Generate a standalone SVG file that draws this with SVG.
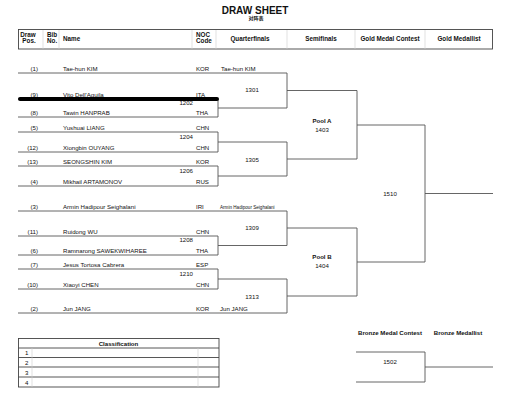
<svg xmlns="http://www.w3.org/2000/svg" width="511" height="400" viewBox="0 0 511 400">
<style>
text{font-family:"Liberation Sans",Arial,sans-serif;fill:#111}
.t{font-size:10px;font-weight:bold}
.st{font-size:5px;font-weight:bold;font-family:"Liberation Sans","Noto Sans CJK SC",sans-serif}
.h{font-size:6.3px;font-weight:bold}
.n{font-size:6.1px}
.s{font-size:4.6px}
.m{font-size:6.1px;text-anchor:middle}
.c{text-anchor:middle}
.e{text-anchor:end}
.b{font-weight:bold}
.ln{stroke:#555;stroke-width:0.9;fill:none}
.fr{stroke:#444;stroke-width:0.9;fill:none}
.fd{stroke:#ccc;stroke-width:0.6}
</style>
<rect width="511" height="400" fill="#fff"/>
<g id="title">
<text class="t c" x="255" y="14">DRAW SHEET</text>
<text class="st c" x="256" y="20">对阵表</text>
</g>
<g id="header">
<rect class="fr" x="18.5" y="29.5" width="474" height="19.5"/>
<line class="fd" x1="43" y1="30" x2="43" y2="49"/>
<line class="fd" x1="59" y1="30" x2="59" y2="49"/>
<line class="fd" x1="192" y1="30" x2="192" y2="49"/>
<line class="fd" x1="216" y1="30" x2="216" y2="49"/>
<line class="fd" x1="287" y1="30" x2="287" y2="49"/>
<line class="fd" x1="355" y1="30" x2="355" y2="49"/>
<line class="fd" x1="425" y1="30" x2="425" y2="49"/>
<text class="h c" x="28" y="37">Draw</text>
<text class="h c" x="29" y="43">Pos.</text>
<text class="h" x="47" y="37">Bib</text>
<text class="h" x="47" y="43">No.</text>
<text class="h" x="63" y="41">Name</text>
<text class="h" x="196" y="37">NOC</text>
<text class="h" x="196" y="43">Code</text>
<text class="h c" x="250" y="41">Quarterfinals</text>
<text class="h c" x="321" y="41">Semifinals</text>
<text class="h c" x="390" y="41">Gold Medal Contest</text>
<text class="h c" x="459" y="41">Gold Medallist</text>
</g>
<g id="connectors">
<!-- entry lines -->
<path class="ln" d="M18 73H287M18 99H218M18 117H218M18 132H218M18 152H218M18 166H218M18 186H218M18 211H287M18 236H218M18 255H218M18 269H218M18 289H218M18 313H287"/>
<!-- first round -->
<path class="ln" d="M218 99V117M218 108H287M218 132V152M218 142H287M218 166V186M218 176H287M218 236V255M218 245.5H287M218 269V289M218 279H287"/>
<!-- quarterfinals -->
<path class="ln" d="M287 73V108M287 90.5H357M287 142V176M287 159H357M287 211V245.5M287 228H357M287 279V313M287 296H357"/>
<!-- semifinals -->
<path class="ln" d="M357 90.5V159M357 125H425M357 228V296M357 262H425"/>
<!-- final -->
<path class="ln" d="M425 125V262M425 193.5H493"/>
<!-- bronze -->
<path class="ln" d="M356 352H425V382H356M425 367H493"/>
</g>
<g id="p1"><text class="n e" x="38" y="71">(1)</text><text class="n" x="63" y="71">Tae-hun KIM</text><text class="n" x="196" y="71">KOR</text><text class="n" x="221" y="71">Tae-hun KIM</text></g>
<g id="p9"><text class="n e" x="38" y="97">(9)</text><text class="n" x="63" y="97">Vito Dell'Aguila</text><text class="n" x="196" y="97">ITA</text></g>
<g id="m1202"><text class="n e" x="193" y="105">1202</text></g>
<g id="p8"><text class="n e" x="38" y="115">(8)</text><text class="n" x="63" y="115">Tawin HANPRAB</text><text class="n" x="196" y="115">THA</text></g>
<g id="p5"><text class="n e" x="38" y="130">(5)</text><text class="n" x="63" y="130">Yushuai LIANG</text><text class="n" x="196" y="130">CHN</text></g>
<g id="m1204"><text class="n e" x="193" y="139">1204</text></g>
<g id="p12"><text class="n e" x="38" y="150">(12)</text><text class="n" x="63" y="150">Xiongbin OUYANG</text><text class="n" x="196" y="150">CHN</text></g>
<g id="p13"><text class="n e" x="38" y="164">(13)</text><text class="n" x="63" y="164">SEONGSHIN KIM</text><text class="n" x="196" y="164">KOR</text></g>
<g id="m1206"><text class="n e" x="193" y="173">1206</text></g>
<g id="p4"><text class="n e" x="38" y="184">(4)</text><text class="n" x="63" y="184">Mikhail ARTAMONOV</text><text class="n" x="196" y="184">RUS</text></g>
<g id="p3"><text class="n e" x="38" y="209">(3)</text><text class="n" x="63" y="209">Armin Hadipour Seighalani</text><text class="n" x="196" y="209">IRI</text><text class="s" x="220" y="209">Armin Hadipour Seighalani</text></g>
<g id="p11"><text class="n e" x="38" y="234">(11)</text><text class="n" x="63" y="234">Ruidong WU</text><text class="n" x="196" y="234">CHN</text></g>
<g id="m1208"><text class="n e" x="193" y="242">1208</text></g>
<g id="p6"><text class="n e" x="38" y="253">(6)</text><text class="n" x="63" y="253">Ramnarong SAWEKWIHAREE</text><text class="n" x="196" y="253">THA</text></g>
<g id="p7"><text class="n e" x="38" y="267">(7)</text><text class="n" x="63" y="267">Jesus Tortosa Cabrera</text><text class="n" x="196" y="267">ESP</text></g>
<g id="m1210"><text class="n e" x="193" y="276">1210</text></g>
<g id="p10"><text class="n e" x="38" y="287">(10)</text><text class="n" x="63" y="287">Xiaoyi CHEN</text><text class="n" x="196" y="287">CHN</text></g>
<g id="p2"><text class="n e" x="38" y="311">(2)</text><text class="n" x="63" y="311">Jun JANG</text><text class="n" x="196" y="311">KOR</text><text class="n" x="220" y="311">Jun JANG</text></g>
<g id="m1301"><text class="m" x="252" y="92">1301</text></g>
<g id="m1305"><text class="m" x="252" y="162">1305</text></g>
<g id="m1309"><text class="m" x="252" y="230">1309</text></g>
<g id="m1313"><text class="m" x="252" y="299">1313</text></g>
<g id="m1403"><text class="m b" x="322" y="123">Pool A</text><text class="m" x="322" y="132">1403</text></g>
<g id="m1404"><text class="m b" x="322" y="259">Pool B</text><text class="m" x="322" y="268">1404</text></g>
<g id="m1510"><text class="m" x="390" y="196">1510</text></g>
<g id="bronze">
<text class="n b c" x="390" y="335">Bronze Medal Contest</text>
<text class="n b c" x="458" y="335">Bronze Medallist</text>
</g>
<g id="m1502"><text class="m" x="390" y="364">1502</text></g>
<g id="redaction"><line x1="20" y1="99" x2="217" y2="99" stroke="#000" stroke-width="4" stroke-linecap="round"/></g>
<g id="classification">
<rect class="fr" x="18.5" y="338.5" width="200.5" height="48.5"/>
<path class="fr" d="M18.5 348H219M18.5 357.5H219M18.5 367H219M18.5 377H219"/>
<line class="fd" x1="32" y1="348" x2="32" y2="387"/>
<line class="fd" x1="198" y1="348" x2="198" y2="387"/>
<text class="n b c" x="118.5" y="345.5">Classification</text>
<text class="n" x="25" y="355">1</text>
<text class="n" x="25" y="364.5">2</text>
<text class="n" x="25" y="374.5">3</text>
<text class="n" x="25" y="384.5">4</text>
</g>
</svg>
